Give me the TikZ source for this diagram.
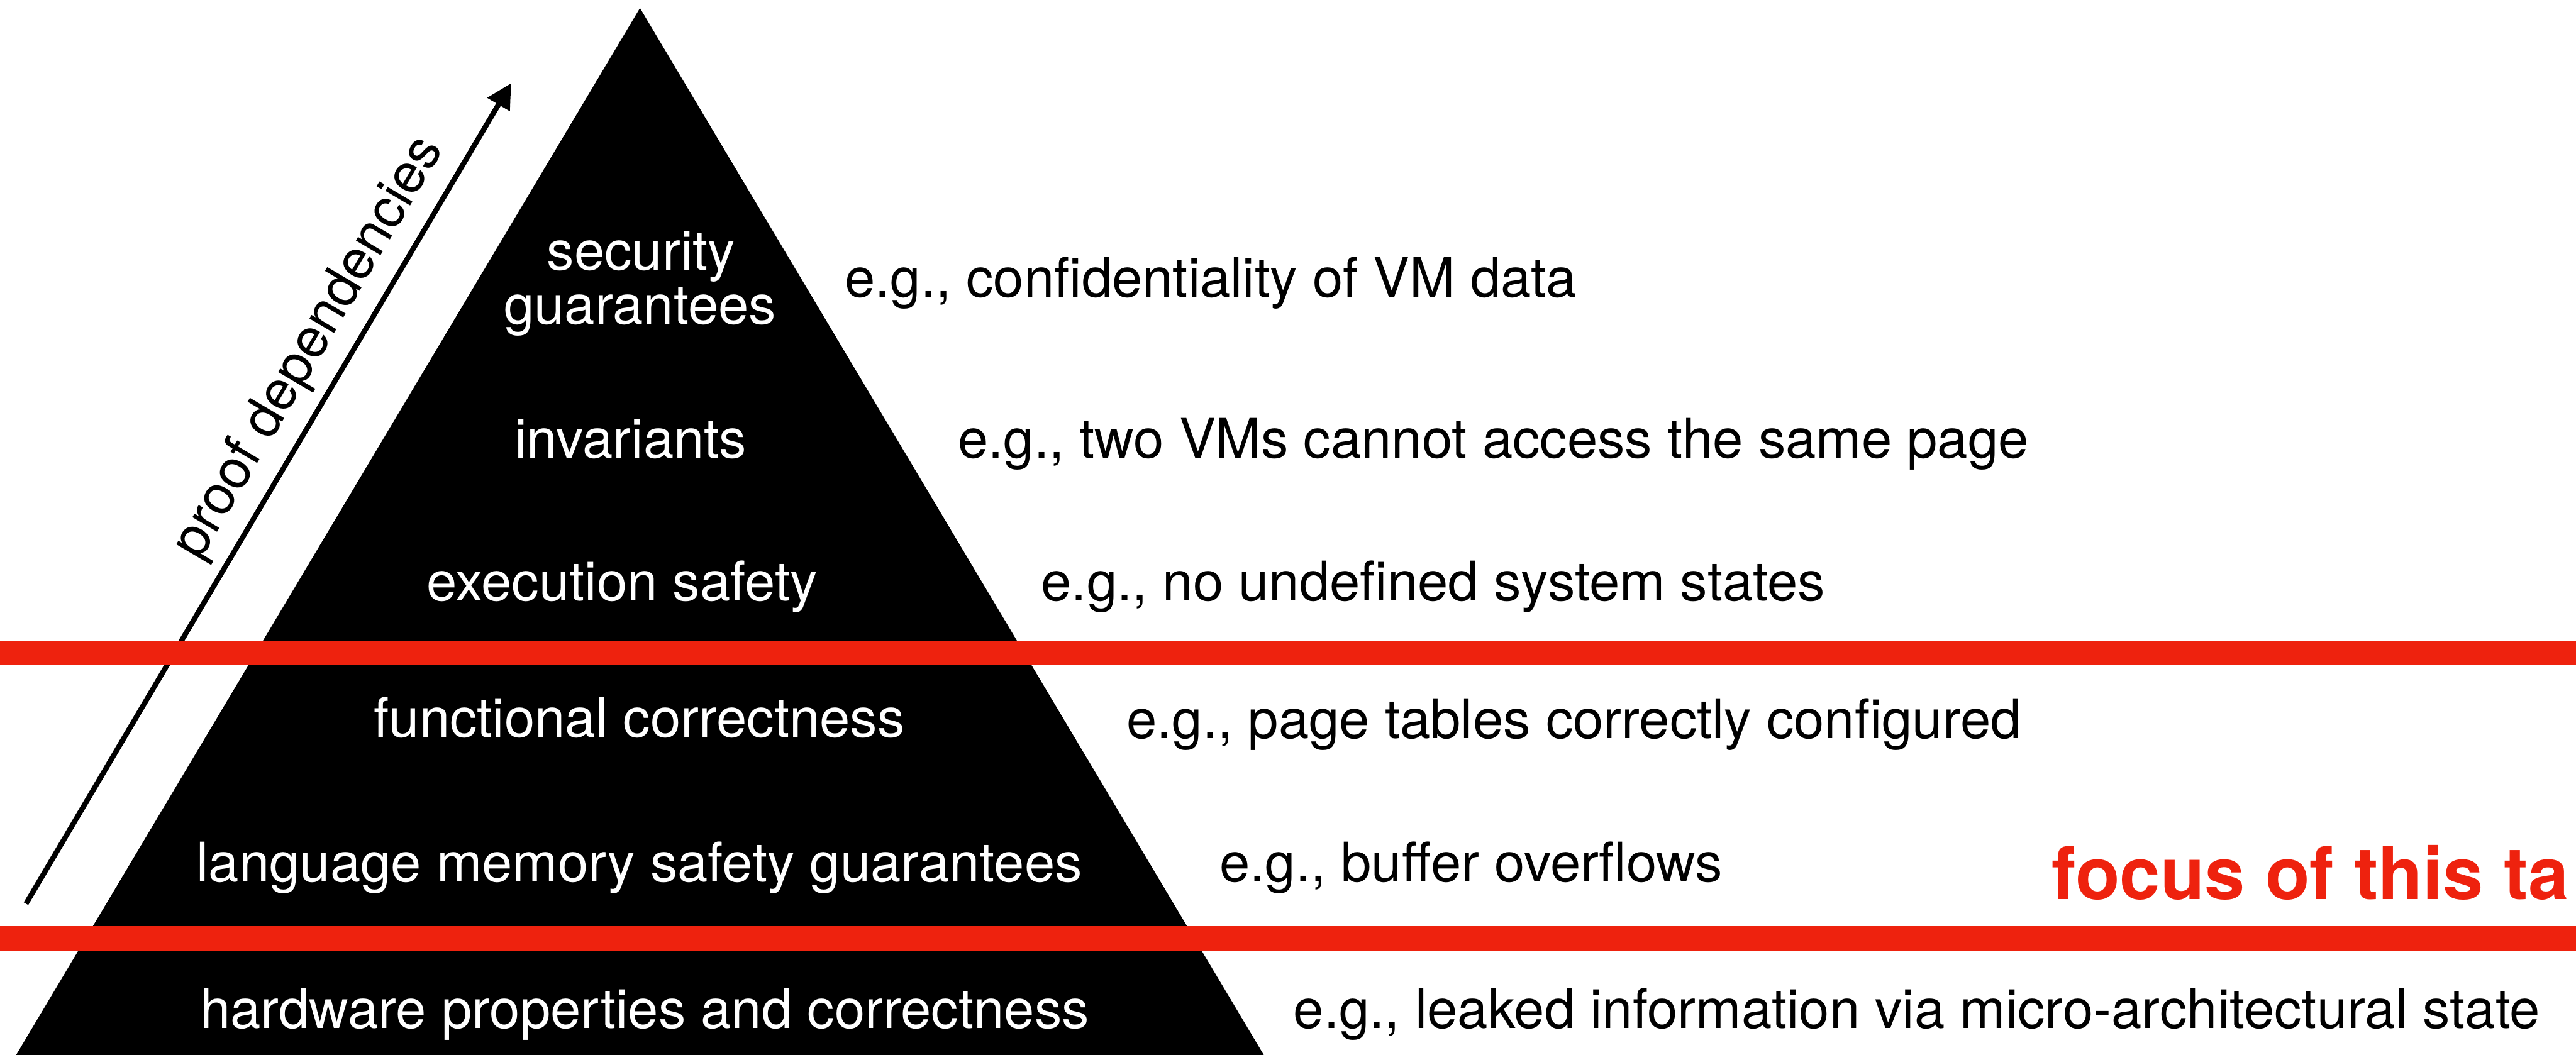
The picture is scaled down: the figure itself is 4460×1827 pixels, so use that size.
\documentclass[tikz,border=0pt]{standalone}
\usepackage{fontspec}
\setmainfont{TeX Gyre Heros}
\usetikzlibrary{arrows.meta}
\definecolor{bandred}{RGB}{238,34,14}
\begin{document}
\begin{tikzpicture}[x=0.01cm, y=-0.01cm,
  tier/.style={text=white, font=\fontsize{26.9}{32}\selectfont, inner sep=0, anchor=base},
  example/.style={text=black, font=\fontsize{26.9}{32}\selectfont, inner sep=0, anchor=base west},
  focuslabel/.style={text=bandred, font=\fontsize{35.8}{42}\selectfont\bfseries, inner sep=0, anchor=base west},
  band/.style={fill=bandred, draw=none},
  deparrow/.style={draw=black, line width=0.09cm, -{Triangle[length=0.43cm, width=0.43cm]}}]
\useasboundingbox (0,0) rectangle (4460,1827);

% the pyramid
\fill[black] (1108,14) -- (2188,1827) -- (28,1827) -- cycle;

% levels of the pyramid
\node[tier] (sec1) at (1110,468) {security};
\node[tier] (sec2) at (1108,561) {guarantees};
\node[tier] (inv)  at (1092,793) {invariants};
\node[tier] (exe)  at (1077,1040) {execution safety};
\node[tier] (func) at (1107,1277) {functional correctness};
\node[tier] (lang) at (1107,1527) {language memory safety guarantees};
\node[tier] (hw)   at (1116,1781) {hardware properties and correctness};

% examples for each level
\node[example] (exsec)  at (1462,515)  {e.g., confidentiality of VM data};
\node[example] (exinv)  at (1658,793)  {e.g., two VMs cannot access the same page};
\node[example] (exexe)  at (1802,1040) {e.g., no undefined system states};
\node[example] (exfunc) at (1950,1279) {e.g., page tables correctly configured};
\node[example] (exlang) at (2111,1527) {e.g., buffer overflows};
\node[example] (exhw)   at (2239,1781) {e.g., leaked information via micro-architectural state};

% dependency arrow and its label
\coordinate (deptail) at (45,1565);
\coordinate (dephead) at (885,144);
\draw[deparrow] (deptail) -- (dephead);
\node[text=black, font=\fontsize{26.9}{32}\selectfont, inner sep=0, anchor=base, rotate=59.4] (dep) at (557,615) {proof dependencies};

% red bands marking the focus region
\fill[band] (0,1109) rectangle (4460,1151);
\fill[band] (0,1604) rectangle (4460,1647);
\node[focuslabel] (focus) at (3552,1558) {focus of this ta};
\end{tikzpicture}
\end{document}
